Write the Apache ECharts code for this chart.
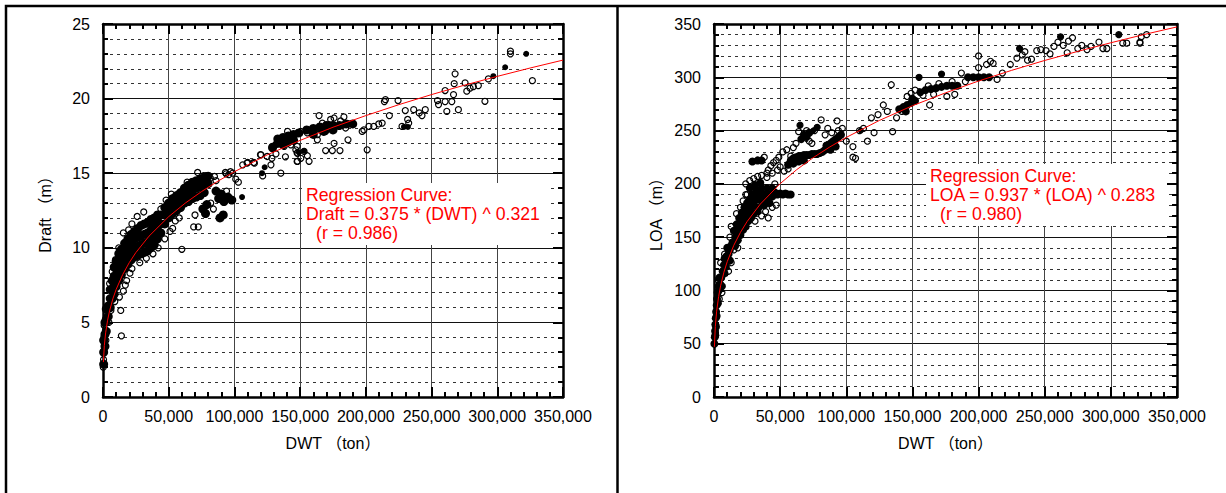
<!DOCTYPE html>
<html lang="ja">
<head>
<meta charset="utf-8">
<title>DWT - Draft / LOA</title>
<style>
  body { margin: 0; background: #fff; }
  #main { width: 1226px; height: 493px; }
</style>
</head>
<body>
<script src="https://cdn.jsdelivr.net/npm/echarts@6/dist/echarts.min.js"></script>
<div id="main"></div>
<script>
// DWT (ton) vs Draft (m) -- dense part drawn filled, the rest as open circles
var draftDense = [
  [500,2.2],[500,3.0],[500,3.8],[1500,3.4],[1500,4.2],[1500,5.0],[2500,4.4],[2500,5.2],[2500,5.9],
  [4000,5.4],[4000,6.1],[5500,6.0],[5500,6.6],[5500,7.2],[7000,6.6],[7000,7.2],[7000,7.8],
  [8500,6.9],[8500,7.5],[8500,8.1],[8500,8.7],[10000,7.4],[10000,8.0],[10000,8.6],[10000,9.1],
  [12000,7.8],[12000,8.4],[12000,9.0],[12000,9.6],[14000,8.2],[14000,8.8],[14000,9.4],[14000,9.9],
  [16500,8.6],[16500,9.2],[16500,9.8],[16500,10.3],[19000,8.9],[19000,9.5],[19000,10.1],[19000,10.6],
  [21500,9.2],[21500,9.8],[21500,10.4],[21500,10.9],[24000,9.4],[24000,10.0],[24000,10.6],[24000,11.1],
  [26500,9.5],[26500,10.1],[26500,10.7],[26500,11.3],[29000,9.6],[29000,10.2],[29000,10.8],[29000,11.5],
  [31500,9.7],[31500,10.3],[31500,10.9],[31500,11.6],[34000,9.8],[34000,10.4],[34000,11.0],[34000,11.7],
  [36500,10.0],[36500,10.6],[36500,11.2],[36500,11.9],[39000,10.2],[39000,10.8],[39000,11.4],[39000,12.0],
  [41500,10.6],[41500,11.2],[41500,11.8],[41500,12.2],[44000,11.0],[44000,11.6],[44000,12.2],
  [47000,11.6],[47000,12.2],[47000,12.7],[50000,12.0],[50000,12.5],[50000,13.0],
  [53000,12.3],[53000,12.8],[53000,13.3],[56000,12.5],[56000,13.0],[56000,13.5],
  [59000,12.7],[59000,13.2],[59000,13.7],[62000,13.0],[62000,13.5],[62000,14.0],
  [65000,13.1],[65000,13.6],[65000,14.2],[68000,13.3],[68000,13.8],[68000,14.4],
  [71000,13.4],[71000,14.0],[71000,14.5],[74000,13.5],[74000,14.1],[74000,14.6],
  [77000,13.7],[77000,14.2],[77000,14.7],[80000,14.3],[80000,14.8],
  [76000,12.6],[79000,12.9],[78000,12.3],[86000,13.8],[88000,13.3],[92000,13.1],[95000,13.4],
  [98000,13.2],[90000,13.6],[89000,12.0],[91500,12.2],
  [129000,16.7],[133000,17.0],[133000,17.3],[137000,17.4],[137000,16.9],[141000,17.5],[141000,17.1],
  [145000,17.6],[145000,17.2],[149000,17.7],[155000,17.9],[160000,18.0],
  [165000,18.1],[170000,18.2],[175000,18.2],[180000,18.2],[185000,18.3],[190000,18.3],[160000,17.6],
  [168000,17.8],[175000,17.9]
];
// small filled spots (a few ships on top of each other)
var draftSpot = [
  [105800,13.4],[121000,15.0],[123000,15.4],[149000,16.4],[153000,16.5],[229000,18.1],[232000,18.1],
  [297000,21.5],[306000,22.1],[322000,23.0]
];
var draftOpen = [
  [200,2.0],[400,2.5],[700,3.1],[1100,3.6],[600,4.0],[2200,3.8],[900,4.8],[3000,5.0],[2800,5.6],
  [4500,5.0],[14000,4.1],[13500,5.8],[6000,5.8],[9000,6.4],[12500,6.7],[15500,7.1],[17000,7.5],
  [18000,7.8],[20500,8.3],[22000,8.6],[5000,7.6],[7000,8.4],[9500,9.2],[12000,10.0],[15500,11.0],
  [17000,10.4],[19500,11.2],[22000,11.6],[26000,12.1],[31000,12.4],[28000,9.0],[33000,9.3],
  [38000,9.6],[42000,10.0],[47000,10.6],[44000,12.6],[48000,13.2],[52000,13.6],[51000,11.1],
  [53000,11.3],[55000,11.8],[60000,9.9],[58000,12.0],[69000,11.4],[72500,11.4],[70000,12.2],
  [64000,14.4],[72000,15.05],[76600,14.83],[81700,14.67],[78500,14.84],[84800,14.78],[86000,14.5],
  [93100,15.05],[95700,14.9],[97000,15.1],[93700,14.96],[98700,15.0],[82000,13.0],[84000,12.6],
  [94000,13.8],[101000,14.6],[103000,14.4],[106300,15.56],[110100,15.72],[115200,15.67],
  [120200,16.23],[121500,14.82],[127800,15.56],[128500,16.0],[135300,15.0],[109600,15.68],
  [114700,15.72],[119800,16.24],[124900,16.12],[128700,16.8],[131200,16.9],[135000,17.1],
  [138800,17.2],[142600,17.36],[146400,17.58],[147700,16.8],[147700,16.35],[147700,15.79],
  [138800,16.1],[131600,16.3],[137900,16.8],[142900,16.9],[146700,16.57],[135400,17.35],
  [140400,17.8],[148000,16.35],[150500,16.0],[153000,16.46],[155500,16.17],[148000,15.8],
  [156800,15.8],[150500,17.8],[155500,17.7],[160600,17.8],[164400,18.0],[172000,18.25],
  [179500,18.14],[183300,18.25],[187100,18.3],[163100,17.58],[169400,17.8],[174500,17.9],
  [166900,18.36],[173200,18.6],[175800,18.7],[180800,18.5],[184600,18.03],[163100,17.24],
  [169400,16.52],[174500,16.52],[180300,16.52],[186400,17.24],[164400,18.86],[183300,18.77],
  [175800,17.0],[198500,17.9],[202300,18.14],[206000,18.14],[209800,18.3],[212400,18.36],
  [201000,16.57],[197200,17.8],[214100,19.8],[214900,19.93],[217900,18.86],[224500,19.87],
  [227500,18.14],[230000,19.2],[231800,18.6],[232600,18.36],[236400,19.26],[240600,19.04],
  [242700,18.86],[245200,19.26],[254500,19.87],[255300,19.6],[260300,19.8],[261600,19.15],
  [265400,19.8],[266700,20.27],[260300,20.54],[267200,21.0],[267900,21.66],[270400,19.26],
  [275500,21.05],[276800,20.5],[279300,20.7],[281800,20.8],[285600,20.87],[290600,19.82],
  [293200,21.32],[310000,23.18],[310000,23.0],[326700,21.2]
];
// red regression curve
var draftCurve = [
  [300,2.34],[1000,3.44],[2000,4.30],[3500,5.15],[5000,5.77],[7500,6.58],[10000,7.21],[15000,8.21],
  [20000,9.01],[25000,9.68],[35000,10.78],[50000,12.09],[62500,12.99],[75000,13.77],[87500,14.47],
  [100000,15.10],[125000,16.23],[150000,17.20],[175000,18.08],[200000,18.86],[225000,19.59],
  [250000,20.27],[275000,20.90],[300000,21.49],[325000,22.05],[350000,22.58]
];

// DWT (ton) vs LOA (m)
var loaDense = [
  [300,50],[600,56],[800,62],[1000,68],[1300,74],[1600,80],[2000,86],[2300,92],[2700,98],[1000,58],
  [1500,66],[2000,76],[3000,88],[3500,104],[3500,100],[4500,106],[5500,112],[6500,118],[7500,124],
  [4000,112],[6000,104],[8000,116],[8000,130],[9000,122],[10000,128],[11000,134],[12000,138],
  [13000,142],[10000,140],[12000,128],[9500,132],[14000,145],[16000,150],[18000,156],[20000,162],
  [22000,166],[24000,170],[26000,174],[28000,177],[15000,156],[17000,162],[19000,168],[21000,173],
  [23000,178],[25000,182],[16000,142],[18000,147],[20000,152],[22000,157],[24000,160],[26000,165],
  [28000,168],[27000,185],[29000,190],[30000,180],[32000,185],[32000,194],[34000,190],[34000,178],
  [36000,184],[36000,196],[38000,190],[38000,180],[40000,186],[40000,196],[42000,190],[42000,182],
  [44000,188],[44000,196],[46000,192],[30000,172],[33000,174],[27000,196],[31000,199],[35000,201],
  [48000,190],[50000,191],[52000,190],[54000,191],[56000,190],[58000,190],[29000,221],[33000,222],
  [36000,222],[56000,218],[58000,222],[60000,224],[62000,225],[64000,226],[66000,226],[68000,227],
  [70000,227],[72000,227],[74000,228],[76000,228],[78000,228],[80000,229],[82000,230],[84000,232],
  [60000,219],[64000,221],[68000,222],[85000,236],[88000,238],[90000,240],[92000,242],[94000,244],
  [96000,246],[88000,232],[92000,235],[66000,242],[68000,246],[70000,244],[72000,248],
  [140000,270],[143000,272],[146000,274],[149000,276],[152000,278],[145000,268],[150000,280],
  [156000,286],[160000,288],[164000,289],[168000,290],[172000,291],[176000,292],[180000,292],
  [184000,292],[192000,300],[196000,300],[200000,300],[204000,300],[208000,300]
];
var loaSpot = [
  [65000,255],[75000,250],[78000,253],[111000,250],[155000,300],[172000,303],[231000,327],
  [262000,338],[306000,340]
];
var loaOpen = [
  [4000,92],[3000,110],[5000,126],[8000,134],[6000,98],[11000,118],[13000,126],[12000,150],
  [15000,138],[18000,140],[13000,160],[17000,172],[20000,178],[22000,184],[24000,190],[25000,190],
  [24000,200],[27000,203],[30000,205],[33000,207],[36000,208],[40000,210],[31000,165],[36000,170],
  [39000,174],[44000,178],[47000,180],[41000,168],[46000,200],[38000,225],[41000,213],[43000,217],
  [45000,220],[47000,222],[49000,225],[50000,216],[53000,212],[40000,206],[44000,210],[48000,213],
  [52000,230],[55000,232],[56000,214],[58000,226],[60000,234],[62000,238],[64000,249],[65000,255],
  [70000,250],[72000,240],[74000,238],[76000,250],[78000,253],[81000,260],[84000,246],[86000,252],
  [89000,248],[93000,259],[94000,250],[97000,252],[100000,240],[105000,235],[105000,225],
  [107000,224],[110000,250],[113000,252],[116000,240],[119000,262],[121000,248],[124000,265],
  [128000,274],[131000,268],[134000,293],[135000,249],[138000,262],[142000,268],[146000,282],
  [149000,285],[152000,288],[155000,300],[158000,283],[162000,292],[163000,274],[166000,284],
  [170000,294],[172000,303],[176000,282],[180000,296],[182000,284],[187000,304],[190000,296],
  [200000,320],[200000,309],[206000,312],[209000,315],[211000,313],[214000,298],[218000,304],
  [224000,312],[229000,318],[231000,327],[233000,321],[235000,324],[237000,316],[240000,317],
  [244000,325],[247000,326],[251000,325],[254000,322],[257000,329],[260000,333],[262000,338],
  [264000,330],[267000,323],[268000,334],[271000,337],[275000,327],[278000,330],[282000,326],
  [285000,329],[291000,333],[294000,327],[297000,327],[306000,340],[309000,332],[312000,332],
  [322000,333],[323000,338],[327000,340],[322000,332]
];
var loaCurve = [
  [300,47.1],[1000,66.2],[2000,80.5],[3500,94.3],[5000,104.4],[7500,117.1],[10000,127.0],
  [15000,142.4],[20000,154.5],[25000,164.6],[35000,181.0],[50000,200.2],[62500,213.3],[75000,224.6],
  [87500,234.6],[100000,243.6],[125000,259.5],[150000,273.3],[175000,285.4],[200000,296.5],
  [225000,306.5],[250000,315.8],[275000,324.3],[300000,332.4],[325000,340.1],[350000,347.3]
];

var font = "'Liberation Sans','Noto Sans CJK JP',sans-serif";

function xAxisOf(g, pos) {
  var bottom = pos === 'bottom';
  return {
    type: 'value', gridIndex: g, position: pos, min: 0, max: 350000, interval: 50000,
    name: bottom ? 'DWT （ton）' : '', nameLocation: 'middle', nameGap: 38,
    nameTextStyle: { fontSize: 16, color: '#000', fontFamily: font },
    axisLine: { show: true, onZero: false, lineStyle: { color: '#000', width: 2.5 } },
    axisTick: { show: true, inside: true, length: 10, lineStyle: { color: '#000', width: 2 } },
    minorTick: { show: true, splitNumber: 5, length: 5, lineStyle: { color: '#000', width: 2 } },
    axisLabel: {
      show: bottom, fontSize: 16, color: '#000', fontFamily: font, margin: 11,
      formatter: function (v) { return v.toLocaleString('en-US'); }
    },
    splitLine: { show: bottom, lineStyle: { color: '#444', width: 1 } },
    minorSplitLine: { show: false }
  };
}

function yAxisOf(g, pos, max, step, name) {
  var left = pos === 'left';
  return {
    type: 'value', gridIndex: g, position: pos, min: 0, max: max, interval: step,
    name: left ? name : '', nameLocation: 'middle', nameGap: 50,
    nameTextStyle: { fontSize: 16, color: '#000', fontFamily: font },
    axisLine: { show: true, onZero: false, lineStyle: { color: '#000', width: 2.5 } },
    axisTick: { show: true, inside: true, length: 10, lineStyle: { color: '#000', width: 2 } },
    minorTick: { show: true, splitNumber: 5, length: 5, lineStyle: { color: '#000', width: 2 } },
    axisLabel: { show: left, fontSize: 16, color: '#000', fontFamily: font, margin: 13 },
    splitLine: { show: left, lineStyle: { color: '#111', width: 1 } },
    minorSplitLine: { show: left, lineStyle: { color: '#333', width: 1, type: [3, 4] } }
  };
}

function dots(xi, data, size, filled) {
  return {
    type: 'scatter', xAxisIndex: xi, yAxisIndex: xi, data: data, symbol: 'circle', symbolSize: size,
    itemStyle: filled ? { color: '#000', opacity: 1 }
      : { color: 'rgba(0,0,0,0)', borderColor: '#000', borderWidth: 1.2, opacity: 1 },
    silent: true
  };
}
function curve(xi, data) {
  return {
    type: 'line', xAxisIndex: xi, yAxisIndex: xi, data: data, showSymbol: false, smooth: false,
    lineStyle: { color: '#ff0000', width: 1 }, z: 5, silent: true
  };
}

function noteBox(x, y, w, lines) {
  var els = [{ type: 'rect', z: 50, shape: { x: x, y: y, width: w, height: 62 }, style: { fill: '#fff' } }];
  lines.forEach(function (t, i) {
    els.push({
      type: 'text', z: 51, x: x + 4 + (i === 2 ? 10 : 0), y: y + 3 + i * 19,
      style: { text: t, fill: '#ff0000', fontSize: 17.7, fontFamily: font }
    });
  });
  return els;
}

var chart = echarts.init(document.getElementById('main'), null, { renderer: 'svg' });
chart.setOption({
  animation: false,
  backgroundColor: '#fff',
  grid: [
    { left: 103, top: 24, width: 460, height: 373 },
    { left: 714, top: 24, width: 463, height: 373 }
  ],
  xAxis: [xAxisOf(0, 'bottom'), xAxisOf(1, 'bottom'), xAxisOf(0, 'top'), xAxisOf(1, 'top')],
  yAxis: [yAxisOf(0, 'left', 25, 5, 'Draft （m）'), yAxisOf(1, 'left', 350, 50, 'LOA （m）'),
          yAxisOf(0, 'right', 25, 5), yAxisOf(1, 'right', 350, 50)],
  series: [
    dots(0, draftOpen, 6, false), dots(0, draftDense, 9, true), dots(0, draftSpot, 6, true),
    curve(0, draftCurve),
    dots(1, loaOpen, 6, false), dots(1, loaDense, 8, true), dots(1, loaSpot, 6, true),
    curve(1, loaCurve)
  ],
  graphic: [
    { type: 'rect', z: 60, shape: { x: 6, y: 6, width: 1240, height: 520 },
      style: { fill: 'none', stroke: '#000', lineWidth: 2.5 } },
    { type: 'line', z: 60, shape: { x1: 617.5, y1: 6, x2: 617.5, y2: 493 },
      style: { stroke: '#000', lineWidth: 2.5 } }
  ].concat(
    noteBox(302, 183, 249, ['Regression Curve:', 'Draft = 0.375 * (DWT) ^ 0.321', '(r = 0.986)']),
    noteBox(926, 164, 241, ['Regression Curve:', 'LOA = 0.937 * (LOA) ^ 0.283', '(r = 0.980)'])
  )
});
</script>
</body>
</html>
